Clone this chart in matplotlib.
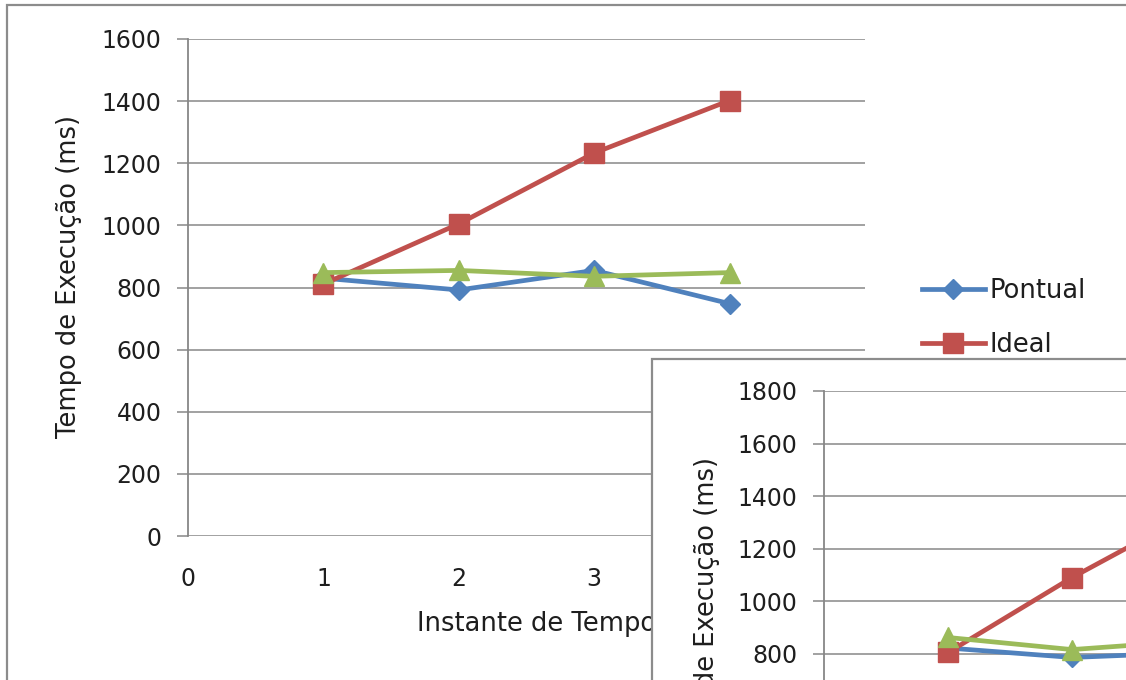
import numpy as np
import matplotlib.pyplot as plt
from matplotlib.patches import Rectangle

# Dados do grafico principal
instantes = [1, 2, 3, 4]
pontual = [830, 792, 855, 748]
ideal = [811, 1005, 1233, 1402]
preditivo = [848, 855, 836, 848]

# Dados do segundo grafico (parcialmente escondido)
instantes2 = [1, 2, 3, 4]
pontual2 = [822, 786, 805, 800]
ideal2 = [805, 1090, 1345, 1600]
preditivo2 = [862, 816, 850, 845]

nomes = ['Pontual', 'Ideal', 'Preditivo']
cores = ['#4F81BD', '#C0504D', '#9BBB59']
marcadores = ['D', 's', '^']
tam_marc = [10.5, 15, 15]

W, H = 1126, 680
fig = plt.figure(figsize=(W / 100, H / 100), dpi=100)
plt.rcParams['font.family'] = ['DejaVu Sans']
fs_tick = 17
fs_txt = 18.5
cor_txt = '#1e1e1e'
cor_grade = '#878787'


def px(x0, y_top, x1, y_bot):
    # converte caixa em pixels para coordenadas da figura
    return [x0 / W, 1 - y_bot / H, (x1 - x0) / W, (y_bot - y_top) / H]


def estilo(ax, ymax):
    ax.set_ylim(0, ymax)
    ax.set_yticks(np.arange(0, ymax + 1, 200))
    ax.set_xlim(0, 5)
    ax.set_xticks(range(0, 6))
    ax.yaxis.grid(True, color=cor_grade, lw=1.1)
    ax.set_axisbelow(True)
    for s in ['top', 'right', 'bottom']:
        ax.spines[s].set_visible(False)
    ax.spines['left'].set_color(cor_grade)
    ax.spines['left'].set_linewidth(1.3)
    ax.tick_params(axis='y', length=8, width=1.1, color=cor_grade, pad=11,
                   labelsize=fs_tick, labelcolor=cor_txt)
    ax.tick_params(axis='x', length=0, pad=22, labelsize=fs_tick, labelcolor=cor_txt)


# moldura do grafico principal
fig.patches.append(Rectangle((7 / W, -0.1), 1.2, 1 - 5 / H + 0.1,
                             transform=fig.transFigure, fill=False,
                             edgecolor='#8c8c8c', lw=1.6, zorder=-1))

ax = fig.add_axes(px(188, 39, 865, 536))
estilo(ax, 1600)
series = [pontual, ideal, preditivo]
for nome, ys, c, m, ms in zip(nomes, series, cores, marcadores, tam_marc):
    ax.plot(instantes, ys, color=c, lw=3.4, marker=m, ms=ms, label=nome,
            clip_on=False)
ax.set_ylabel('Tempo de Execução (ms)', fontsize=fs_txt, color=cor_txt, va='center')
ax.yaxis.set_label_coords(-0.176, 0.523)
ax.set_xlabel('Instante de Tempo', fontsize=fs_txt, color=cor_txt, va='center')
ax.xaxis.set_label_coords(0.515, -0.177)
ax.legend(loc='upper left', bbox_to_anchor=(909 / W, 1 - 265 / H),
          bbox_transform=fig.transFigure, frameon=False, fontsize=fs_txt,
          handlelength=2.45, handletextpad=0.2, labelspacing=1.1,
          borderpad=0, labelcolor=cor_txt)

# segundo grafico sobreposto
fig.patches.append(Rectangle((652 / W, -0.2), 1.0, 1 - 359 / H + 0.2,
                             transform=fig.transFigure, facecolor='white',
                             edgecolor='#8c8c8c', lw=1.6, zorder=5))
ax2 = fig.add_axes(px(824, 391, 1444, 864), zorder=6)
ax2.patch.set_alpha(0)
estilo(ax2, 1800)
series2 = [pontual2, ideal2, preditivo2]
for nome, ys, c, m, ms in zip(nomes, series2, cores, marcadores, tam_marc):
    ax2.plot(instantes2, ys, color=c, lw=3.4, marker=m, ms=ms, label=nome)
ax2.set_ylabel('Tempo de Execução (ms)', fontsize=fs_txt, color=cor_txt, va='center')
ax2.yaxis.set_label_coords((707 - 824) / 620, (864 - 619) / 473)

fig.savefig('out.png', dpi=100)
